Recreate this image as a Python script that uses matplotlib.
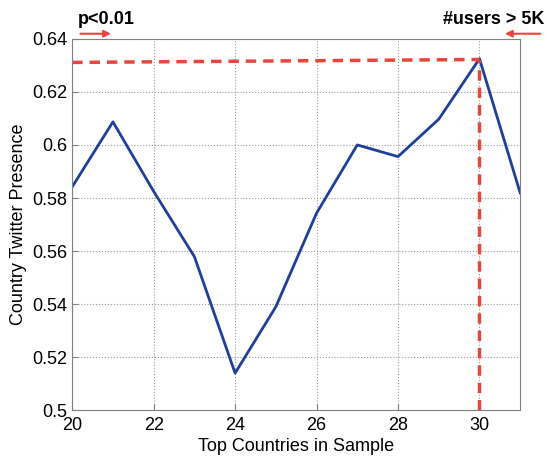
import matplotlib
matplotlib.use("Agg")
import matplotlib.pyplot as plt

plt.rcParams['font.family'] = ['Liberation Sans', 'DejaVu Sans']

# data
top_n = [20, 21, 22, 23, 24, 25, 26, 27, 28, 29, 30, 31]
presence = [0.5842, 0.6087, 0.5825, 0.5579, 0.5140, 0.5390, 0.5743,
            0.6000, 0.5956, 0.6097, 0.6325, 0.5819]

# threshold markers
thr_x = [20, 30]
thr_y = [0.6311, 0.6322]
cut_x = 30

fig = plt.figure(figsize=(5.47, 4.62), dpi=100)
ax = fig.add_axes([0.132, 0.112, 0.819, 0.804])

ax.plot(top_n, presence, color='#1f3f9a', lw=2)
ax.plot(thr_x, thr_y, color='#e8453c', lw=2.5, ls=(0, (3, 2)))
ax.plot([cut_x, cut_x], [0.5, thr_y[1]], color='#e8453c', lw=2.5, ls=(0, (3, 2)))

ax.set_xlim(20, 31)
ax.set_ylim(0.5, 0.64)
ax.set_xticks([20, 22, 24, 26, 28, 30])
ax.set_yticks([0.5, 0.52, 0.54, 0.56, 0.58, 0.6, 0.62, 0.64])
ax.set_yticklabels(['0.5', '0.52', '0.54', '0.56', '0.58', '0.6', '0.62', '0.64'])
ax.grid(True, ls=':', color='#999999', lw=0.8)
ax.tick_params(direction='in', labelsize=13, colors='#808080', labelcolor='black', length=4)
ax.tick_params(axis='x', pad=5)
for s in ax.spines.values():
    s.set_color('#808080')

ax.set_xlabel('Top Countries in Sample', fontsize=13, labelpad=3)
ax.set_ylabel('Country Twitter Presence', fontsize=13)

# annotations above the axes
fig.text(0.142, 0.957, 'p<0.01', fontsize=13, fontweight='bold', ha='left', va='center')
fig.text(0.995, 0.957, '#users > 5K', fontsize=13, fontweight='bold', ha='right', va='center')
ax.annotate('', xy=(0.208, 0.927), xytext=(0.142, 0.927), xycoords='figure fraction',
            arrowprops=dict(arrowstyle='-|>', color='#e8453c', lw=1.5, mutation_scale=10))
ax.annotate('', xy=(0.918, 0.927), xytext=(0.993, 0.927), xycoords='figure fraction',
            arrowprops=dict(arrowstyle='-|>', color='#e8453c', lw=1.5, mutation_scale=10))

plt.savefig('out.png', dpi=100)
